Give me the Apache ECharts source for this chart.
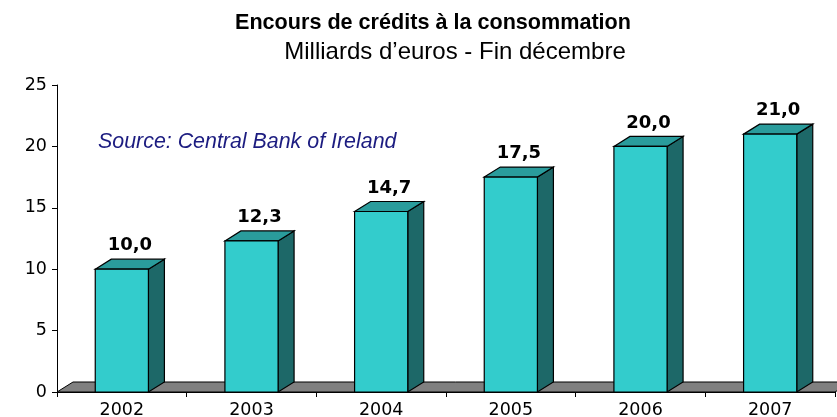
<!DOCTYPE html>
<html>
<head>
<meta charset="utf-8">
<script src="https://cdn.jsdelivr.net/npm/echarts@6/dist/echarts.min.js"></script>
<style>html,body{margin:0;padding:0;background:#fff}#c{width:837px;height:417px}</style>
</head>
<body>
<div id="c"></div>
<script>
const categories = ['2002', '2003', '2004', '2005', '2006', '2007'];
const values = [10.0, 12.3, 14.7, 17.5, 20.0, 21.0];
const yTicks = [0, 5, 10, 15, 20, 25];
const titleText = 'Encours de crédits à la consommation';
const subtitleText = 'Milliards d\u2019euros - Fin décembre';
const sourceText = 'Source: Central Bank of Ireland';

const DX = 16, DY = 10, BAR_RATIO = 0.41;
const FRONT = '#33CCCC', TOP = '#2A9C9C', SIDE = '#1D6868', FLOOR = '#808080';

const chart = echarts.init(document.getElementById('c'), null, {renderer: 'canvas'});
const fmt = v => v.toFixed(1).replace('.', ',');

chart.setOption({
  animation: false,
  backgroundColor: '#fff',
  grid: {left: 57, right: 2, top: 85, bottom: 25, containLabel: false, outerBoundsMode: 'none'},
  xAxis: {
    type: 'category',
    data: categories,
    boundaryGap: true,
    axisLine: {show: true, lineStyle: {color: '#000', width: 1}},
    axisTick: {show: true, inside: false, length: 5, interval: 0, lineStyle: {color: '#000'}},
    axisLabel: {color: '#000', fontSize: 17.5, fontFamily: 'DejaVu Sans', margin: 9, interval: 0},
    splitLine: {show: false}
  },
  yAxis: {
    type: 'value',
    min: yTicks[0],
    max: yTicks[yTicks.length - 1],
    interval: yTicks[1] - yTicks[0],
    axisLine: {show: true, lineStyle: {color: '#000', width: 1}},
    axisTick: {show: true, inside: false, length: 5, lineStyle: {color: '#000'}},
    axisLabel: {color: '#000', fontSize: 17.5, fontFamily: 'DejaVu Sans', margin: 10},
    splitLine: {show: false}
  },
  graphic: [
    {type: 'text', x: 433, y: 23, style: {text: titleText, fontSize: 21.6, fontWeight: 'bold', fontFamily: 'Liberation Sans', fill: '#000', align: 'center', verticalAlign: 'middle'}},
    {type: 'text', x: 455, y: 52, style: {text: subtitleText, fontSize: 24, fontFamily: 'Liberation Sans', fill: '#000', align: 'center', verticalAlign: 'middle'}},
    {type: 'text', x: 98, y: 142, style: {text: sourceText, fontSize: 21.4, fontStyle: 'italic', fontFamily: 'Liberation Sans', fill: '#1c1c80', align: 'left', verticalAlign: 'middle'}}
  ],
  series: [
    {
      type: 'custom',
      z: 1,
      silent: true,
      data: [[0, 0]],
      renderItem: function (params, api) {
        const cs = params.coordSys;
        const y0 = cs.y + cs.height;
        const x0 = cs.x, x1 = cs.x + cs.width;
        return {
          type: 'polygon',
          shape: {points: [[x0, y0], [x1, y0], [x1 + DX, y0 - DY], [x0 + DX, y0 - DY]]},
          style: {fill: FLOOR, stroke: '#000', lineWidth: 1}
        };
      }
    },
    {
      type: 'custom',
      z: 3,
      data: categories.map((c, i) => [i, values[i]]),
      renderItem: function (params, api) {
        const idx = api.value(0), v = api.value(1);
        const top = api.coord([idx, v]);
        const base = api.coord([idx, 0]);
        const bw = api.size([1, 0])[0] * BAR_RATIO;
        const xl = top[0] - bw / 2, xr = top[0] + bw / 2;
        const yt = top[1], yb = base[1];
        return {
          type: 'group',
          children: [
            {type: 'polygon', shape: {points: [[xr, yt], [xr + DX, yt - DY], [xr + DX, yb - DY], [xr, yb]]},
              style: {fill: SIDE, stroke: '#000', lineWidth: 1.2}},
            {type: 'polygon', shape: {points: [[xl, yt], [xl + DX, yt - DY], [xr + DX, yt - DY], [xr, yt]]},
              style: {fill: TOP, stroke: '#000', lineWidth: 1.2}},
            {type: 'rect', shape: {x: xl, y: yt, width: bw, height: yb - yt},
              style: {fill: FRONT, stroke: '#000', lineWidth: 1.2}},
            {type: 'text', x: top[0] + DX / 2, y: yt - DY - 13.5,
              style: {text: fmt(v), fontSize: 18, fontWeight: 'bold', fontFamily: 'DejaVu Sans', fill: '#000', align: 'center', verticalAlign: 'middle'}}
          ]
        };
      }
    }
  ]
});
</script>
</body>
</html>
